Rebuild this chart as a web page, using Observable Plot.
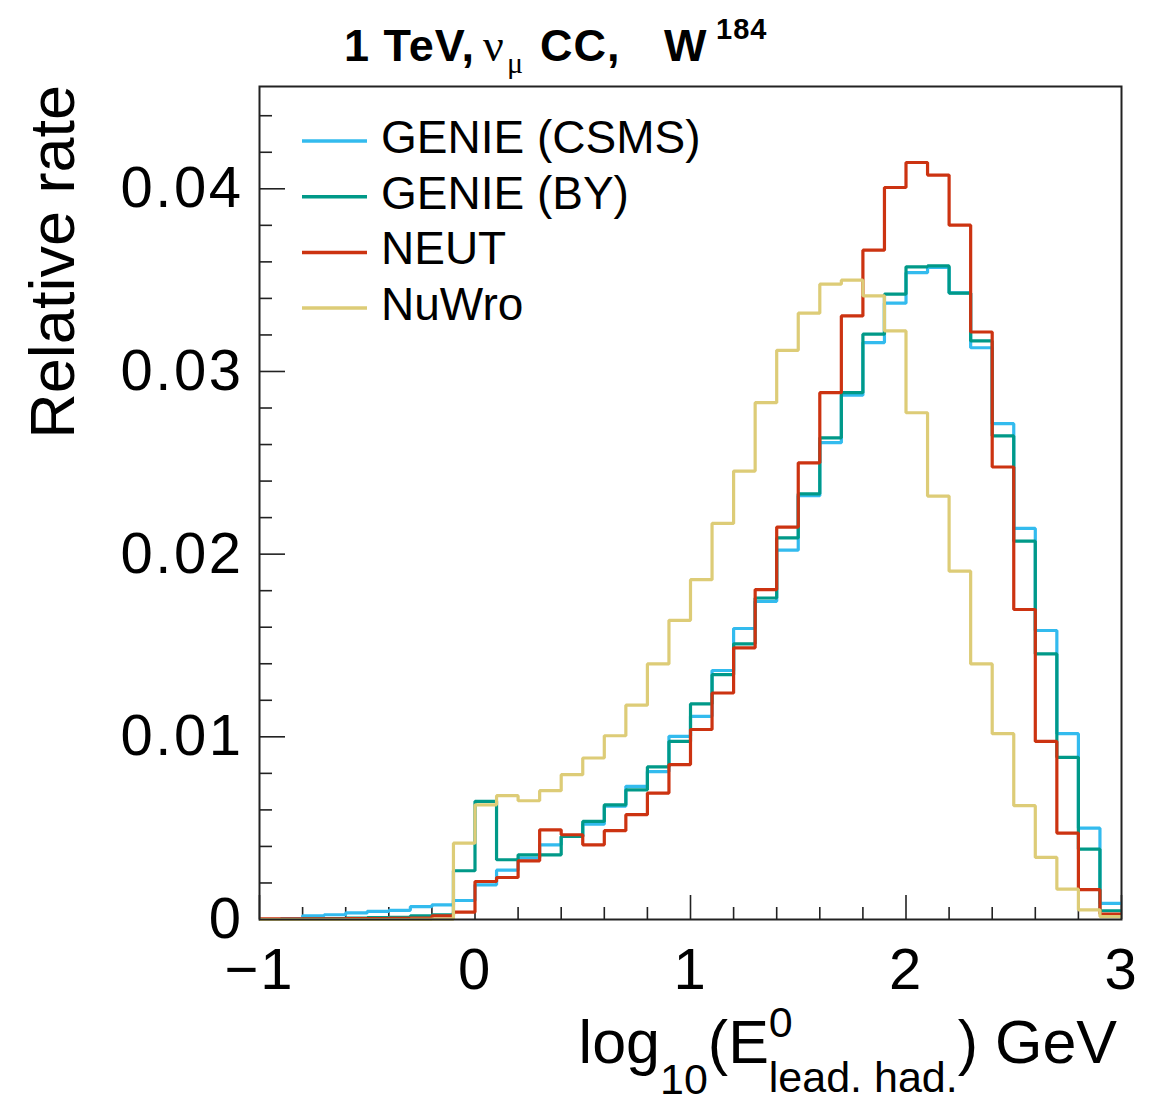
<!DOCTYPE html>
<html>
<head>
<meta charset="utf-8">
<script src="https://cdn.jsdelivr.net/npm/d3@7"></script>
<script src="https://cdn.jsdelivr.net/npm/@observablehq/plot@0.6"></script>
<style>
  html, body { margin: 0; padding: 0; background: #fff; }
  #chart svg { display: block; }
</style>
</head>
<body>
<div id="chart"></div>
<script>
// ---- Data ----
const binEdges = [-1.0, -0.9, -0.8, -0.7, -0.6, -0.5, -0.4, -0.3, -0.2, -0.1,
                  0.0, 0.1, 0.2, 0.3, 0.4, 0.5, 0.6, 0.7, 0.8, 0.9,
                  1.0, 1.1, 1.2, 1.3, 1.4, 1.5, 1.6, 1.7, 1.8, 1.9,
                  2.0, 2.1, 2.2, 2.3, 2.4, 2.5, 2.6, 2.7, 2.8, 2.9, 3.0];

const genieCSMS = [0, 0.00005, 0.0002, 0.00026, 0.00036, 0.00045, 0.0005, 0.0007, 0.0008, 0.00104,
                   0.0019, 0.0027, 0.00336, 0.00409, 0.00455, 0.00522, 0.0062, 0.00729, 0.0081, 0.01003,
                   0.01112, 0.01363, 0.01593, 0.01742, 0.02022, 0.0232, 0.0261, 0.0287, 0.03158, 0.03374,
                   0.03541, 0.0357, 0.0343, 0.0313, 0.02714, 0.02141, 0.01582, 0.01017, 0.005, 0.00088];

const genieBY = [0, 0, 0.00003, 0.00005, 0.00008, 0.0001, 0.00012, 0.0002, 0.00026, 0.00267,
                 0.00647, 0.00327, 0.00354, 0.00354, 0.00455, 0.00537, 0.00628, 0.0071, 0.00835, 0.00975,
                 0.0118, 0.0134, 0.01509, 0.0176, 0.02089, 0.0233, 0.02637, 0.02884, 0.03204, 0.03423,
                 0.03573, 0.03578, 0.03429, 0.03167, 0.02647, 0.02071, 0.01454, 0.00888, 0.00385, 0.00048];

const neut = [0.00003, 0.00003, 0.00004, 0.00004, 0.00005, 0.00005, 0.00006, 0.00008, 0.0002, 0.0004,
              0.00208, 0.0023, 0.00321, 0.00491, 0.00464, 0.00409, 0.00486, 0.00574, 0.00692, 0.00848,
              0.0104, 0.0124, 0.01487, 0.01806, 0.02148, 0.025, 0.02884, 0.03304, 0.03664, 0.04007,
              0.04144, 0.04075, 0.03801, 0.03216, 0.02477, 0.01697, 0.00975, 0.00473, 0.00163, 0.0003];

const nuwro = [0, 0, 0, 0, 0, 0, 0, 0.00001, 0.00002, 0.00418,
               0.00628, 0.00678, 0.0065, 0.00705, 0.00793, 0.00884, 0.01006, 0.01173, 0.01399, 0.01638,
               0.0186, 0.02168, 0.02455, 0.02829, 0.03116, 0.03319, 0.03478, 0.035, 0.03414, 0.03222,
               0.02774, 0.02318, 0.01907, 0.01399, 0.01017, 0.00623, 0.0034, 0.00166, 0.00053, 0.00016];

const seriesNames  = ["GENIE (CSMS)", "GENIE (BY)", "NEUT", "NuWro"];
const seriesValues = [genieCSMS, genieBY, neut, nuwro];
const seriesColors = ["#33bbee", "#009988", "#cc3311", "#ddcc77"];

const xMajorTicks = [-1, 0, 1, 2, 3];
const xMinorTicks = [-0.8, -0.6, -0.4, -0.2, 0.2, 0.4, 0.6, 0.8, 1.2, 1.4, 1.6, 1.8, 2.2, 2.4, 2.6, 2.8];
const yMajorTicks = [0, 0.01, 0.02, 0.03, 0.04];
const yMinorTicks = [0.002, 0.004, 0.006, 0.008, 0.012, 0.014, 0.016, 0.018, 0.022, 0.024, 0.026, 0.028,
                     0.032, 0.034, 0.036, 0.038, 0.042, 0.044];
const yMax = 0.0456;

// ---- Build step rows (left bin edge + final right edge) ----
function stepRows(name, vals) {
  const rows = vals.map((v, i) => ({series: name, x: binEdges[i], y: v}));
  rows.push({series: name, x: binEdges[vals.length], y: vals[vals.length - 1]});
  return rows;
}

const W = 1154, H = 1104;
const mL = 259, mR = 33, mT = 86, mB = 185;
const fw = W - mL - mR, fh = H - mT - mB;
const FONT = "'Liberation Sans', Arial, Helvetica, sans-serif";
const SERIF = "'Liberation Serif', 'DejaVu Serif', serif";

const lineMarks = seriesNames.map((name, k) =>
  Plot.line(stepRows(name, seriesValues[k]), {
    x: "x", y: "y", curve: "step-after",
    stroke: seriesColors[k], strokeWidth: 3.2, strokeLinejoin: "miter", strokeLinecap: "butt"
  })
);

const fmtX = d => d < 0 ? "\u2212" + Math.abs(d) : String(d);
const fmtY = d => d === 0 ? "0" : d.toFixed(2);

const plot = Plot.plot({
  width: W, height: H,
  marginLeft: mL, marginRight: mR, marginTop: mT, marginBottom: mB,
  style: {fontFamily: FONT, background: "white", color: "black", overflow: "visible"},
  x: {domain: [-1, 3]},
  y: {domain: [0, yMax]},
  marks: [
    Plot.tickX(xMinorTicks, {x: d => d, insetTop: fh - 12, stroke: "#222", strokeWidth: 1.6}),
    Plot.tickX(xMajorTicks, {x: d => d, insetTop: fh - 24, stroke: "#222", strokeWidth: 1.6}),
    Plot.tickY(yMinorTicks, {y: d => d, insetRight: fw - 13, stroke: "#222", strokeWidth: 1.6}),
    Plot.tickY(yMajorTicks, {y: d => d, insetRight: fw - 26, stroke: "#222", strokeWidth: 1.6}),
    ...lineMarks,
    Plot.axisX({ticks: xMajorTicks, tickSize: 0, tickPadding: 28, fontSize: 58, label: null, tickFormat: fmtX}),
    Plot.axisY({ticks: yMajorTicks, tickSize: 0, tickPadding: 16, fontSize: 58, label: null, tickFormat: fmtY}),
    Plot.frame({stroke: "#222", strokeWidth: 2})
  ]
});

document.getElementById("chart").appendChild(plot);

// widen tick-label digits slightly (the reference digits are broad)
d3.select(plot).selectAll("g[aria-label='y-axis tick label'] text").attr("letter-spacing", 2.5);
d3.select(plot).selectAll("g[aria-label='x-axis tick label'] text").attr("letter-spacing", 2);

// ---- Titles, axis labels and legend ----
const svg = d3.select(plot);

// Title
const title = svg.append("text")
  .attr("y", 61).attr("text-anchor", "start").attr("letter-spacing", 1)
  .attr("font-family", FONT).attr("font-weight", "bold").attr("font-size", 45).attr("fill", "black");
title.append("tspan").attr("x", 344).text("1 TeV,");
title.append("tspan").attr("x", 483).attr("font-family", SERIF)
  .attr("font-weight", "normal").attr("font-size", 46).text("\u03BD");
title.append("tspan").attr("x", 507).attr("dy", 12).attr("font-family", SERIF)
  .attr("font-weight", "normal").attr("font-size", 30).text("\u03BC");
title.append("tspan").attr("x", 540).attr("dy", -12).text("CC,");
title.append("tspan").attr("x", 664).text("W");
title.append("tspan").attr("x", 716).attr("dy", -22).attr("font-size", 29).text("184");

// Y axis label
svg.append("text")
  .attr("transform", `translate(74, ${mT - 1}) rotate(-90)`)
  .attr("text-anchor", "end")
  .attr("font-family", FONT).attr("font-size", 63).attr("fill", "black")
  .text("Relative rate");

// X axis label
const xl = svg.append("text")
  .attr("x", 1117).attr("y", 1063).attr("text-anchor", "end")
  .attr("font-family", FONT).attr("font-size", 61).attr("fill", "black");
xl.append("tspan").text("log");
xl.append("tspan").attr("font-size", 43).attr("dy", 31).text("10");
xl.append("tspan").attr("dy", -31).text("(E");
xl.append("tspan").attr("font-size", 43).attr("dy", -26).text("0");
xl.append("tspan").attr("font-size", 43).attr("dx", -24).attr("dy", 55).text("lead. had.");
xl.append("tspan").attr("dy", -29).text(") GeV");

// Legend
const legendX1 = 302, legendX2 = 367, legendTextX = 381;
const legendY0 = 141, legendDY = 55.7;
seriesNames.forEach((name, k) => {
  const y = legendY0 + k * legendDY;
  svg.append("line")
    .attr("x1", legendX1).attr("x2", legendX2).attr("y1", y).attr("y2", y)
    .attr("stroke", seriesColors[k]).attr("stroke-width", 3.5);
  svg.append("text")
    .attr("x", legendTextX).attr("y", y + 12).attr("text-anchor", "start")
    .attr("font-family", FONT).attr("font-size", 46).attr("fill", "black")
    .text(name);
});
</script>
</body>
</html>
